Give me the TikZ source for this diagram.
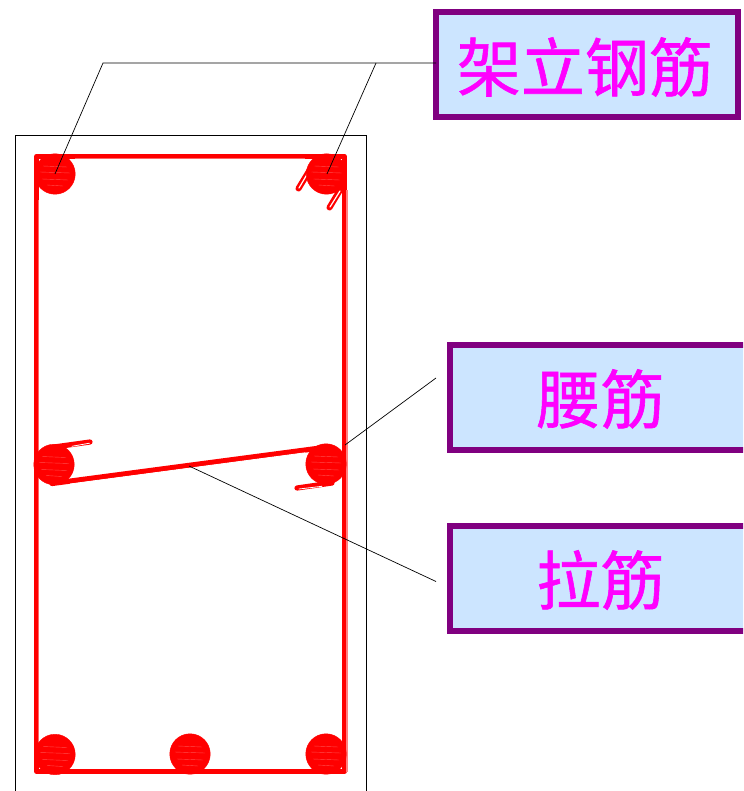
\documentclass[tikz,border=0pt]{standalone}
\usepackage{fontspec}
\newfontfamily\cjk[FakeBold=0.9]{Noto Sans CJK SC}
\definecolor{rebar}{RGB}{255,0,0}
\definecolor{boxline}{RGB}{128,0,128}
\definecolor{boxfill}{RGB}{204,229,255}
\definecolor{boxtext}{RGB}{255,0,255}
\tikzset{
  x=1pt,y=-1pt,
  labelbox/.style={draw=boxline,fill=boxfill,line width=6pt,outer sep=0pt,anchor=north west,inner sep=0pt},
  labeltext/.style={text=boxtext,inner sep=0pt,font=\cjk\fontsize{64}{64}\selectfont},
  leader/.style={draw=black,line width=0.7pt},
  concrete/.style={draw=black,line width=0.8pt},
  rebarline/.style={draw=rebar,line width=5.2pt,line cap=round,line join=round},
  hairline/.style={draw=white,line width=0.8pt,line cap=round},
  barcircle/.style={circle,fill=rebar,draw=rebar,minimum size=40.5pt,inner sep=0pt},
}
\begin{document}
\begin{tikzpicture}
\useasboundingbox (0,0) rectangle (743,791);
\begin{scope}
\clip (0,0) rectangle (743,791);
% concrete outline
\draw[concrete] (15,800) -- (15,135) -- (366,135) -- (366,800);
% stirrup
\coordinate (sA) at (36.7,156.2);
\coordinate (sC) at (344.2,771.5);
\draw[draw=rebar,line width=5.2pt,line join=round] (sA) rectangle (sC);
\draw[draw=white!40!rebar,line width=0.6pt] (37.8,200) -- (37.8,745);
\draw[draw=white!40!rebar,line width=0.6pt] (75,158) -- (305,158);
\draw[draw=rebar!50!white,line width=2pt] (347,190) -- (347,772);
% hooks at top right
\coordinate (h1a) at (298.5,188.5);
\coordinate (h1b) at (314,163);
\coordinate (h2a) at (329.5,207.5);
\coordinate (h2b) at (343,185);
\draw[rebarline,line width=6pt] (h1a) -- (h1b);
\draw[hairline,line width=1.2pt] (299,188) -- (309,171);
\draw[rebarline,line width=6pt] (h2a) -- (h2b);
\draw[hairline,line width=1.2pt] (330,207) -- (340,191);
% tie bar
\coordinate (t1) at (90,442);
\coordinate (t2) at (54,447);
\coordinate (t3) at (52,483.5);
\coordinate (t4) at (328,447);
\coordinate (t5) at (297,488);
\coordinate (t6) at (332,483);
\draw[rebarline] (t1) -- (t2);
\draw[rebarline] (t3) -- (t4);
\draw[rebarline] (t5) -- (t6);
\draw[hairline] (72,446.3) -- (89.5,443.2);
\draw[hairline] (70,484) -- (305,452.8);
\draw[hairline] (299,489) -- (322,486.3);
% bars
\node[barcircle] (b1) at (55,174) {};
\node[barcircle] (b2) at (326.5,174) {};
\node[barcircle] (b3) at (54,464.5) {};
\node[barcircle] (b4) at (326,464) {};
\node[barcircle] (b5) at (55,754.5) {};
\node[barcircle] (b6) at (190,754) {};
\node[barcircle] (b7) at (326,754) {};
% faint highlights in the bars
\foreach \n in {b1,b2,b3,b4,b5,b6,b7}{
  \draw[draw=white!30!rebar,line width=0.4pt]
    ([shift={(-12,-8)}]\n.center) -- ++(24,1)
    ([shift={(-15,-2)}]\n.center) -- ++(30,1)
    ([shift={(-13,5)}]\n.center) -- ++(26,1)
    ([shift={(-8,11)}]\n.center) -- ++(16,1);
}
% label boxes
\node[labelbox,minimum width=302pt,minimum height=105pt] (lb1) at (436,12) {};
\node[labeltext] (lt1) at (585,67) {架立钢筋};
\node[labelbox,minimum width=310pt,minimum height=105pt] (lb2) at (450,345) {};
\node[labeltext] (lt2) at (600.5,399) {腰筋};
\node[labelbox,minimum width=310pt,minimum height=105pt] (lb3) at (450,526) {};
\node[labeltext] (lt3) at (600.5,580) {拉筋};
% leaders
\coordinate (k1) at (103,63);
\coordinate (k2) at (376,63);
\coordinate (p2) at (436,378);
\coordinate (q2) at (345,445);
\coordinate (p3) at (436,581.5);
\coordinate (q3) at (189,466);
\draw[leader] (b1.center) -- (k1) -- (lb1.west |- k1);
\draw[leader] ([shift={(0.5,0)}]b2.center) -- (k2);
\draw[leader] (q2) -- (p2);
\draw[leader] (q3) -- (p3);
\end{scope}
\end{tikzpicture}
\end{document}
